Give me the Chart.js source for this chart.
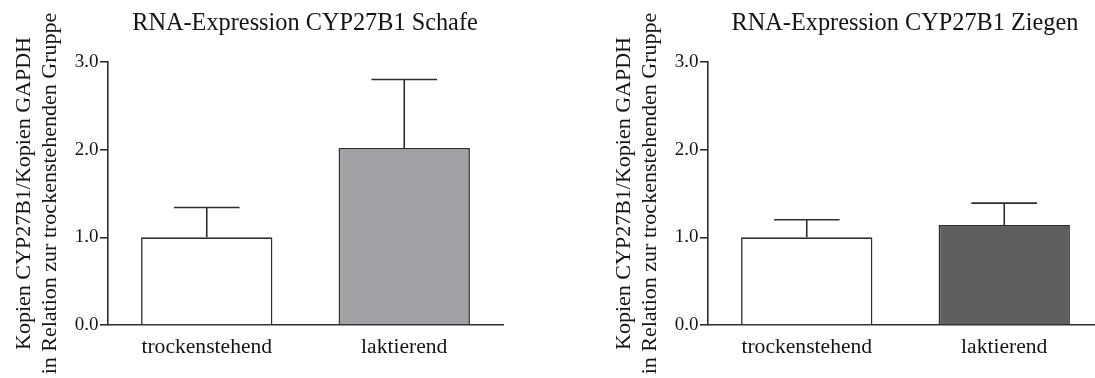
<!DOCTYPE html>
<html lang="de">
<head>
<meta charset="utf-8">
<title>RNA-Expression CYP27B1</title>
<script src="https://cdn.jsdelivr.net/npm/chart.js@4.4.1/dist/chart.umd.min.js"></script>
<style>
    html, body { margin: 0; padding: 0; background: #fff; }
    #wrap { position: relative; width: 1095px; height: 378px; overflow: hidden; }
    canvas { position: absolute; top: 0; }
    #chartSchafe { left: 0; }
    #chartZiegen { left: 600px; }
</style>
</head>
<body>
<div id="wrap">
    <canvas id="chartSchafe" width="600" height="378"></canvas>
    <canvas id="chartZiegen" width="600" height="378"></canvas>
</div>
<script>
// Gruppen und Messwerte (Mittelwert + Standardabweichung, relativ zu trockenstehend)
const gruppen = ['trockenstehend', 'laktierend'];
const yTicks = [0, 1, 2, 3];

const mittelSchafe = [1.0, 2.02];
const sdSchafe = [0.34, 0.78];
const farbenSchafe = ['#ffffff', '#a1a1a5'];

const mittelZiegen = [1.0, 1.14];
const sdZiegen = [0.2, 0.25];
const farbenZiegen = ['#ffffff', '#5f5f5f'];

const yTitel = ['Kopien CYP27B1/Kopien GAPDH', 'in Relation zur trockenstehenden Gruppe'];

const linie = '#2e2e2e';
const text = '#141414';
const schrift = "'Liberation Serif', 'Times New Roman', serif";

// Fehlerbalken nach oben (Mittelwert + SD) über jedem Balken
const fehlerbalken = {
    id: 'fehlerbalken',
    afterDatasetsDraw(chart, args, opts) {
        const ctx = chart.ctx;
        const y = chart.scales.y;
        const meta = chart.getDatasetMeta(0);
        const werte = chart.data.datasets[0].data;
        ctx.save();
        ctx.strokeStyle = linie;
        ctx.lineWidth = 1.6;
        meta.data.forEach(function (bar, i) {
            const oben = y.getPixelForValue(werte[i] + opts.sd[i]);
            const halb = bar.width / 4;
            ctx.beginPath();
            ctx.moveTo(bar.x, bar.y);
            ctx.lineTo(bar.x, oben);
            ctx.moveTo(bar.x - halb, oben);
            ctx.lineTo(bar.x + halb, oben);
            ctx.stroke();
        });
        ctx.restore();
    }
};

// Titel über der Zeichenfläche statt über dem ganzen Canvas zentrieren
const titelMitte = {
    id: 'titelMitte',
    afterLayout(chart, args, opts) {
        const tb = chart.titleBlock;
        if (!tb) return;
        tb.left = 0;
        tb.right = opts.mitte * 2;
    }
};

function diagramm(id, titel, mittel, sd, farben) {
    const ctx = document.getElementById(id).getContext('2d');
    return new Chart(ctx, {
        type: 'bar',
        data: {
            labels: gruppen,
            datasets: [{
                data: mittel,
                backgroundColor: farben,
                borderColor: linie,
                borderWidth: 1.6,
                borderSkipped: 'bottom',
                barPercentage: 0.665,
                categoryPercentage: 1.0
            }]
        },
        plugins: [fehlerbalken, titelMitte],
        options: {
            responsive: false,
            animation: false,
            layout: { padding: { left: 0, right: 97, top: 0, bottom: 0 } },
            plugins: {
                legend: { display: false },
                tooltip: { enabled: false },
                title: {
                    display: true,
                    text: titel,
                    color: text,
                    font: { family: schrift, size: 24.3, weight: 'normal', lineHeight: 1.2 },
                    padding: { top: 9, bottom: 23.8 }
                },
                fehlerbalken: { sd: sd },
                titelMitte: { mitte: 305 }
            },
            scales: {
                x: {
                    grid: { display: false, drawTicks: false },
                    border: { display: true, color: linie, width: 1.6 },
                    ticks: {
                        color: text,
                        padding: 9,
                        font: { family: schrift, size: 21.6, lineHeight: 1.2 }
                    },
                    afterFit: function (scale) { scale.height = 53; }
                },
                y: {
                    min: 0,
                    max: 3,
                    afterBuildTicks: function (scale) {
                        scale.ticks = yTicks.map(v => ({ value: v }));
                    },
                    grid: {
                        drawOnChartArea: false,
                        drawTicks: true,
                        tickLength: 8,
                        color: linie,
                        lineWidth: 1.6
                    },
                    border: { display: true, color: linie, width: 1.6 },
                    ticks: {
                        color: text,
                        padding: 1.5,
                        font: { family: schrift, size: 19 },
                        callback: function (v) { return Number(v).toFixed(1); }
                    },
                    title: {
                        display: true,
                        text: yTitel,
                        color: text,
                        font: { family: schrift, size: 22, lineHeight: 1.15 },
                        padding: { top: 12, bottom: 0 }
                    },
                    afterFit: function (scale) { scale.width = 108; }
                }
            }
        }
    });
}

diagramm('chartSchafe', 'RNA-Expression CYP27B1 Schafe', mittelSchafe, sdSchafe, farbenSchafe);
diagramm('chartZiegen', 'RNA-Expression CYP27B1 Ziegen', mittelZiegen, sdZiegen, farbenZiegen);
</script>
</body>
</html>
